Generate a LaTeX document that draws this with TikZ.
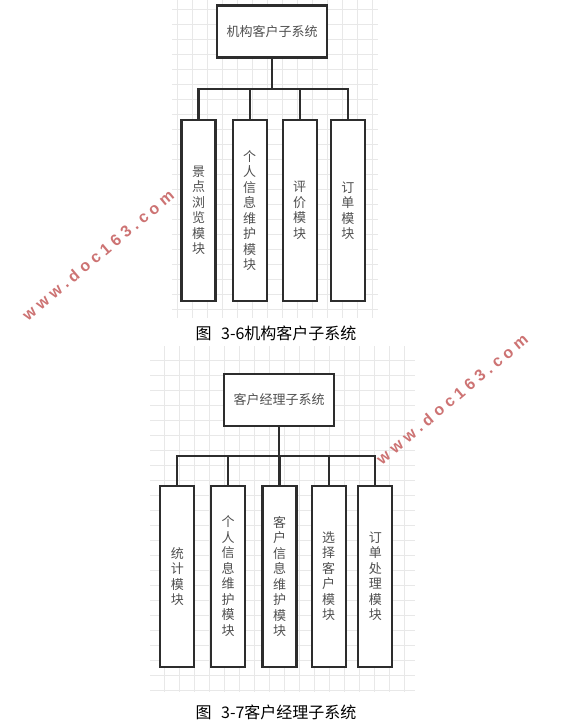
\documentclass[tikz,border=0pt]{standalone}
\usepackage{fontspec}
\setmainfont{Noto Sans CJK SC}
\newfontfamily\wmfont[LetterSpace=28]{Liberation Sans}
\usetikzlibrary{positioning}
\definecolor{boxline}{RGB}{45,45,45}
\definecolor{boxtext}{RGB}{80,80,80}
\definecolor{gridgray}{RGB}{232,232,232}
\definecolor{wmred}{RGB}{205,115,115}

\begin{document}
\begin{tikzpicture}[x=1pt, y=-1pt,
  sys/.style={draw=boxline, fill=white, line width=2.1pt, minimum width=110pt, minimum height=52pt,
    inner sep=0pt, text=boxtext, font=\fontsize{13}{15}\selectfont},
  mod/.style={draw=boxline, fill=white, line width=2.1pt, minimum width=34pt, minimum height=181pt,
    inner sep=0pt, align=center, text=boxtext, font=\fontsize{13}{15.5}\selectfont},
  link/.style={draw=boxline, line width=2.1pt},
  gridln/.style={draw=gridgray, line width=0.9pt},
  figcap/.style={font=\fontsize{16}{18}\selectfont},
  wm/.style={text=wmred, rotate=40, font=\wmfont\bfseries\fontsize{16}{16}\selectfont}]
\useasboundingbox[fill=white] (0,0) rectangle (574,727);
% grid paper behind both charts
\foreach \i in {0,...,13} \draw[gridln] ({177.7+15*\i},0) -- ({177.7+15*\i},318);
\foreach \j in {0,...,20} \draw[gridln] (172,{9.3+15*\j}) -- (378,{9.3+15*\j});
\foreach \i in {0,...,16} \draw[gridln] ({164+15*\i},346) -- ({164+15*\i},692);
\foreach \j in {0,...,22} \draw[gridln] (150,{360.7+15*\j}) -- (415,{360.7+15*\j});

% 3-6
\node[sys] (sysA) at (272,31.5) {机构客户子系统};
\coordinate (busA) at (272,89);
\node[mod] (a1) at (198.5,210.5) {景\\点\\浏\\览\\模\\块};
\node[mod, right=15pt of a1] (a2) {个\\人\\信\\息\\维\\护\\模\\块};
\node[mod, right=14pt of a2] (a3) {评\\价\\模\\块};
\node[mod, right=12pt of a3] (a4) {订\\单\\模\\块};
\draw[link] (sysA.south) -- (busA);
\foreach \m in {a1,a2,a3,a4} \draw[link] (\m.north) |- (busA);
\node[figcap] (capA) at (276,333) {图\hspace{0.6em}3-6机构客户子系统};

% 3-7
\node[sys] (sysB) at (279,399.7) {客户经理子系统};
\coordinate (busB) at (279,456);
\node[mod] (b1) at (177.3,576.3) {统\\计\\模\\块};
\node[mod, right=14.7pt of b1] (b2) {个\\人\\信\\息\\维\\护\\模\\块};
\node[mod, right=15.3pt of b2] (b3) {客\\户\\信\\息\\维\\护\\模\\块};
\node[mod, right=13pt of b3] (b4) {选\\择\\客\\户\\模\\块};
\node[mod, right=10.7pt of b4] (b5) {订\\单\\处\\理\\模\\块};
\draw[link] (sysB.south) -- (busB);
\foreach \m in {b1,b2,b3,b4,b5} \draw[link] (\m.north) |- (busB);
\node[figcap] (capB) at (276,712) {图\hspace{0.6em}3-7客户经理子系统};

% watermarks
\node[wm] (wmA) at (98,255) {www.doc163.com};
\node[wm] (wmB) at (452,399) {www.doc163.com};
\end{tikzpicture}
\end{document}
